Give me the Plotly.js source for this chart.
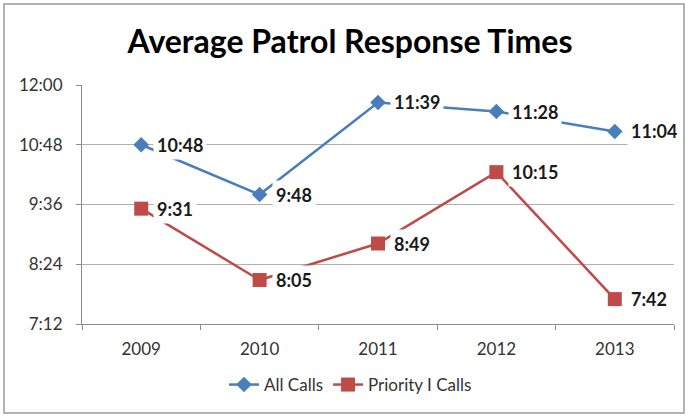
<!DOCTYPE html>
<html>
<head>
<meta charset="utf-8">
<script src="https://cdn.plot.ly/plotly-3.0.1.min.js"></script>
<style>
  html, body { margin: 0; padding: 0; background: #fff; }
  #chart { width: 688px; height: 417px; }
</style>
</head>
<body>
<div id="chart"></div>
<script>
// Years on the category axis
var years = ['2009', '2010', '2011', '2012', '2013'];
// Response times as "m:ss" strings
var allCalls = ['10:48', '9:48', '11:39', '11:28', '11:04'];
var priorityCalls = ['9:31', '8:05', '8:49', '10:15', '7:42'];
// Y axis ticks (seconds) and their labels
var yTickVals = [432, 504, 576, 648, 720];
var yTickText = ['7:12', '8:24', '9:36', '10:48', '12:00'];

function toSeconds(s) {
  var p = s.split(':');
  return parseInt(p[0], 10) * 60 + parseInt(p[1], 10);
}

var blue = '#4a7ebb';
var red = '#be4b48';
var font = 'Lato, "Open Sans", sans-serif';

var traces = [
  {
    x: years, y: allCalls.map(toSeconds), name: 'All Calls',
    type: 'scatter', mode: 'lines+markers',
    line: { color: blue, width: 2.5 },
    marker: { symbol: 'diamond', size: 12, color: blue }
  },
  {
    x: years, y: priorityCalls.map(toSeconds), name: 'Priority I Calls',
    type: 'scatter', mode: 'lines+markers',
    line: { color: red, width: 2.5 },
    marker: { symbol: 'square', size: 14, color: red }
  }
];

// Value labels to the right of each point, on a white box
var annotations = [];
[allCalls, priorityCalls].forEach(function (series) {
  series.forEach(function (v, i) {
    annotations.push({
      x: i, y: toSeconds(v), text: '<b>' + v + '</b>',
      xref: 'x', yref: 'y', showarrow: false,
      xanchor: 'left', yanchor: 'middle', xshift: 12,
      bgcolor: '#ffffff', borderpad: 3,
      font: { family: font, size: 18, color: '#1a1a1a' }
    });
  });
});

var margin = { l: 82, r: 14, t: 85, b: 93 };
var W = 688, H = 417;
var pw = W - margin.l - margin.r, ph = H - margin.t - margin.b;
function px2x(p) { return (p - margin.l) / pw; }
function px2y(p) { return 1 - (p - margin.t) / ph; }

var layout = {
  width: W, height: H,
  margin: margin,
  paper_bgcolor: '#ffffff', plot_bgcolor: '#ffffff',
  title: {
    text: '<b>Average Patrol Response Times</b>',
    font: { family: font, size: 32, color: '#000' },
    x: 350 / W, xref: 'container', xanchor: 'center',
    y: 0.9, yref: 'container', yanchor: 'middle'
  },
  xaxis: {
    type: 'category', range: [-0.5, 4.5],
    showgrid: false, showline: true, linecolor: '#8c8c8c', linewidth: 1,
    ticks: 'outside', tickson: 'boundaries', ticklen: 5, tickcolor: '#8c8c8c',
    ticklabelstandoff: 10,
    tickfont: { family: font, size: 17, color: '#333' },
    fixedrange: true
  },
  yaxis: {
    range: [432, 720], tickvals: yTickVals, ticktext: yTickText,
    showgrid: true, gridcolor: '#b0b0b0', gridwidth: 1,
    showline: true, linecolor: '#8c8c8c', linewidth: 1,
    ticks: 'outside', ticklen: 5, tickcolor: '#8c8c8c',
    ticklabelstandoff: 10,
    tickfont: { family: font, size: 17, color: '#333' },
    zeroline: false, fixedrange: true
  },
  legend: {
    orientation: 'h', x: px2x(224), xanchor: 'left', y: px2y(385), yanchor: 'middle',
    font: { family: font, size: 17, color: '#333' }
  },
  annotations: annotations,
  shapes: [{
    type: 'rect', xref: 'paper', yref: 'paper',
    x0: px2x(4), x1: px2x(684), y0: px2y(413), y1: px2y(4),
    line: { color: '#9a9a9a', width: 1.5 }, layer: 'below'
  }],
  showlegend: true
};

Plotly.newPlot('chart', traces, layout, { displayModeBar: false, staticPlot: true });
</script>
</body>
</html>
